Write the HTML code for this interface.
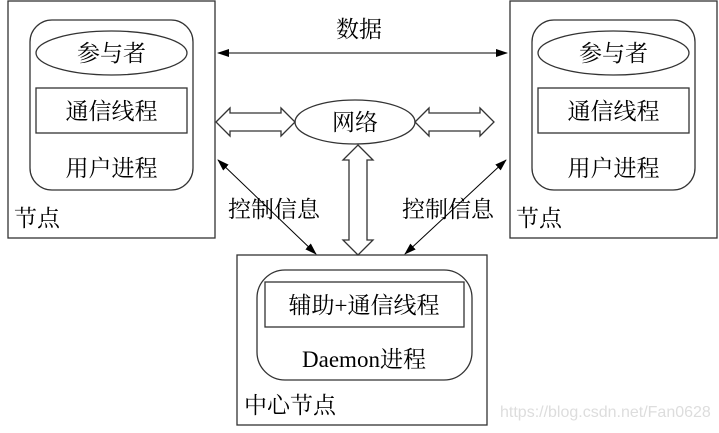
<!DOCTYPE html>
<html><head><meta charset="utf-8"><style>
body{margin:0;background:#fff;}
text{font-family:"Liberation Serif","Noto Serif CJK SC","Noto Sans CJK SC",serif;fill:#000;}
</style></head><body>
<svg width="719" height="428" xmlns="http://www.w3.org/2000/svg">
<defs>
<marker id="a" markerWidth="12" markerHeight="8" refX="11" refY="4" orient="auto-start-reverse" markerUnits="userSpaceOnUse"><path d="M0,0 L12,4 L0,8 Z" fill="#000"/></marker>
</defs>
<g fill="#fff" stroke="#333" stroke-width="1.3">
<rect x="8" y="1" width="207" height="237"/>
<rect x="30" y="20" width="163" height="170" rx="22"/>
<ellipse cx="111.5" cy="53" rx="75.5" ry="22"/>
<rect x="36" y="88" width="151" height="45"/>
<rect x="510" y="1" width="207" height="237"/>
<rect x="532" y="20" width="163" height="170" rx="22"/>
<ellipse cx="613.5" cy="53" rx="75.5" ry="22"/>
<rect x="538" y="88" width="151" height="45"/>
<rect x="237" y="255" width="250" height="170"/>
<rect x="257" y="270" width="215" height="110" rx="28"/>
<rect x="265" y="282" width="199" height="45"/>
<ellipse cx="355" cy="122" rx="60" ry="22"/>
<path d="M216,122 L230,108 L230,113 L281,113 L281,108 L295,122 L281,136 L281,131 L230,131 L230,136 Z"/>
<path d="M415,122 L429,108 L429,113 L480,113 L480,108 L494,122 L480,136 L480,131 L429,131 L429,136 Z"/>
<path d="M358,145 L373,160 L367,160 L367,240 L373,240 L358,255 L343,240 L349,240 L349,160 L343,160 Z"/>
</g>
<g stroke="#000" stroke-width="1">
<line x1="218" y1="53" x2="507" y2="53" marker-start="url(#a)" marker-end="url(#a)"/>
<line x1="218" y1="160" x2="316" y2="254" marker-start="url(#a)" marker-end="url(#a)"/>
<line x1="506" y1="160" x2="405" y2="254" marker-start="url(#a)" marker-end="url(#a)"/>
</g>
<g font-size="23" text-anchor="middle">
<text x="111.5" y="61">参与者</text>
<text x="111.5" y="119">通信线程</text>
<text x="111.5" y="176">用户进程</text>
<text x="613.5" y="61">参与者</text>
<text x="613.5" y="119">通信线程</text>
<text x="613.5" y="176">用户进程</text>
<text x="359" y="37">数据</text>
<text x="355" y="130">网络</text>
<text x="364" y="313">辅助+通信线程</text>
<text x="364" y="367">Daemon进程</text>
</g>
<g font-size="23">
<text x="14" y="226">节点</text>
<text x="516" y="226">节点</text>
<text x="228" y="217">控制信息</text>
<text x="402" y="217">控制信息</text>
<text x="244" y="413">中心节点</text>
</g>
<text x="500" y="417" font-size="16" style="font-family:'Liberation Sans',sans-serif;fill:#ddd">https://blog.csdn.net/Fan0628</text>
</svg>
</body></html>
